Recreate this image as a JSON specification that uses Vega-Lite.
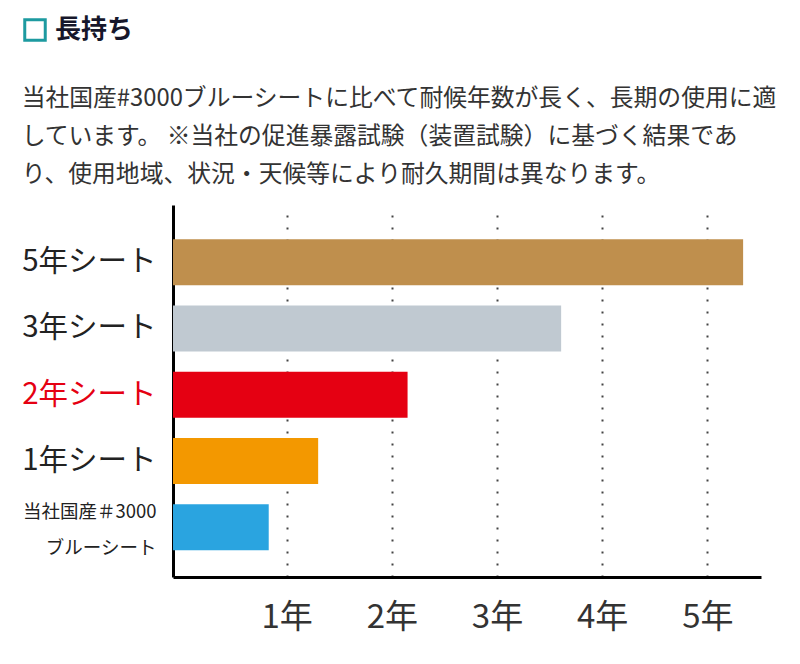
{
  "$schema": "https://vega.github.io/schema/vega-lite/v6.json",
  "background": "white",
  "padding": {"left": 21, "top": 17, "right": 0, "bottom": 0},
  "config": {"view": {"stroke": null}, "font": "Noto Sans CJK JP"},
  "spacing": 40,
  "vconcat": [
    {
      "width": 588,
      "height": 24,
      "data": {"values": [{"k": "長持ち"}]},
      "mark": {"type": "point", "shape": "square", "filled": false, "opacity": 0},
      "encoding": {
        "color": {
          "field": "k",
          "type": "nominal",
          "scale": {"range": ["#1d9aa0"]},
          "legend": {
            "orient": "left",
            "title": null,
            "offset": 39,
            "padding": 0,
            "symbolType": "square",
            "symbolSize": 420,
            "symbolStrokeWidth": 3,
            "symbolFillColor": "transparent",
            "symbolStrokeColor": "#1d9aa0",
            "symbolOpacity": 1,
            "labelFontSize": 26,
            "labelFontWeight": "bold",
            "labelColor": "#16172b",
            "labelOffset": 7,
            "labelLimit": 200
          }
        }
      }
    },
    {
      "width": 588,
      "height": 372,
      "title": {
        "text": [
          "当社国産#3000ブルーシートに比べて耐候年数が長く、長期の使用に適",
          "しています。 ※当社の促進暴露試験（装置試験）に基づく結果であ",
          "り、使用地域、状況・天候等により耐久期間は異なります。"
        ],
        "anchor": "start",
        "frame": "bounds",
        "fontSize": 23.8,
        "fontWeight": "normal",
        "color": "#333333",
        "lineHeight": 38,
        "offset": 18
      },
      "data": {
        "values": [
          {"name": "5年シート", "years": 5.34},
          {"name": "3年シート", "years": 3.61},
          {"name": "2年シート", "years": 2.15},
          {"name": "1年シート", "years": 1.30},
          {"name": "当社国産#3000ブルーシート", "years": 0.83}
        ]
      },
      "mark": {"type": "bar"},
      "encoding": {
        "y": {
          "field": "name",
          "type": "nominal",
          "sort": null,
          "scale": {"paddingInner": 0.306, "paddingOuter": 0.46, "align": 0.56},
          "axis": {
            "title": null,
            "ticks": false,
            "domainColor": "#000000",
            "domainWidth": 3,
            "labelPadding": 17,
            "labelFontSize": {"condition": {"test": "datum.value == '当社国産#3000ブルーシート'", "value": 18.5}, "value": 29.5},
            "labelOffset": {"condition": {"test": "datum.value == '当社国産#3000ブルーシート'", "value": -15}, "value": 0},
            "labelColor": {"condition": {"test": "datum.value == '2年シート'", "value": "#e50012"}, "value": "#222222"},
            "labelExpr": "datum.value == '当社国産#3000ブルーシート' ? ['当社国産＃3000', 'ブルーシート'] : datum.value",
            "labelLineHeight": 36,
            "labelLimit": 300
          }
        },
        "x": {
          "field": "years",
          "type": "quantitative",
          "scale": {"domain": [-0.08, 5.51], "zero": false, "nice": false},
          "axis": {
            "title": null,
            "values": [1, 2, 3, 4, 5],
            "labelExpr": "datum.value + '年'",
            "ticks": false,
            "domainColor": "#000000",
            "domainWidth": 3,
            "labelFontSize": 33,
            "labelColor": "#333333",
            "labelPadding": 24,
            "labelFlush": false,
            "grid": true,
            "gridColor": "#444444",
            "gridWidth": 2,
            "gridDash": [2, 10]
          }
        },
        "x2": {"datum": -0.08},
        "color": {
          "field": "name",
          "type": "nominal",
          "legend": null,
          "scale": {
            "domain": ["5年シート", "3年シート", "2年シート", "1年シート", "当社国産#3000ブルーシート"],
            "range": ["#bf8f4d", "#c0c9d1", "#e50012", "#f39800", "#2aa4e0"]
          }
        }
      }
    }
  ],
  "resolve": {"scale": {"color": "independent"}}
}
